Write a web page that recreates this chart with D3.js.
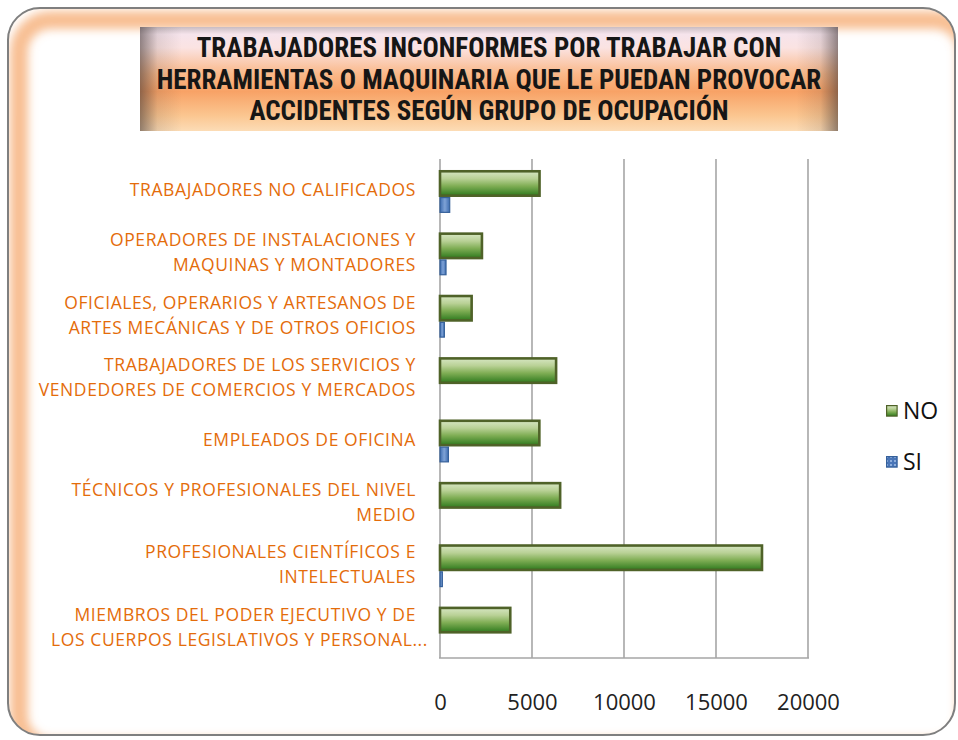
<!DOCTYPE html>
<html>
<head>
<meta charset="utf-8">
<script src="https://cdn.jsdelivr.net/npm/d3@7"></script>
<style>
  html, body { margin: 0; padding: 0; background: #fff; }
  svg { display: block; }
</style>
</head>
<body>
<div id="chart"></div>
<script>
// categorias de arriba hacia abajo, con sus saltos de linea
const categorias = [
  ["TRABAJADORES NO CALIFICADOS"],
  ["OPERADORES DE INSTALACIONES Y", "MAQUINAS Y MONTADORES"],
  ["OFICIALES, OPERARIOS Y ARTESANOS DE", "ARTES MECÁNICAS Y DE OTROS OFICIOS"],
  ["TRABAJADORES DE LOS SERVICIOS Y", "VENDEDORES DE COMERCIOS Y MERCADOS"],
  ["EMPLEADOS DE OFICINA"],
  ["TÉCNICOS Y PROFESIONALES DEL NIVEL", "MEDIO"],
  ["PROFESIONALES CIENTÍFICOS E", "INTELECTUALES"],
  ["MIEMBROS DEL PODER EJECUTIVO Y DE", "LOS CUERPOS LEGISLATIVOS Y PERSONAL..."]
];
const valoresNO = [5480, 2350, 1790, 6380, 5470, 6600, 17570, 3890];
const valoresSI = [560, 360, 270, 0, 490, 0, 160, 0];
const series = ["NO", "SI"];
const ticksX = [0, 5000, 10000, 15000, 20000];
const tituloLineas = [
  "TRABAJADORES INCONFORMES POR TRABAJAR CON",
  "HERRAMIENTAS O MAQUINARIA QUE LE PUEDAN PROVOCAR",
  "ACCIDENTES SEGÚN GRUPO DE OCUPACIÓN"
];

const width = 958, height = 740;
const plot = { left: 440, right: 808, top: 159, bottom: 658 };

const svg = d3.select("#chart").append("svg")
  .attr("width", width).attr("height", height);
const defs = svg.append("defs");

// ---- marco exterior con sombra interior naranja (arriba / izquierda)
defs.append("clipPath").attr("id", "frame-clip")
  .append("rect").attr("x", 8).attr("y", 8).attr("width", 947).attr("height", 727).attr("rx", 32);
const glow = defs.append("filter").attr("id", "glow").attr("x", "-10%").attr("y", "-10%").attr("width", "120%").attr("height", "120%");
glow.append("feGaussianBlur").attr("stdDeviation", 5);

svg.append("rect")
  .attr("x", 8).attr("y", 8).attr("width", 947).attr("height", 727).attr("rx", 32)
  .attr("fill", "#fff");
svg.append("g").attr("clip-path", "url(#frame-clip)")
  .append("rect")
  .attr("x", 8).attr("y", 8).attr("width", 947).attr("height", 727).attr("rx", 32)
  .attr("transform", "translate(11,12)")
  .attr("fill", "none")
  .attr("stroke", "#f4a060")
  .attr("stroke-width", 18)
  .attr("stroke-opacity", 0.68)
  .attr("filter", "url(#glow)");
svg.append("rect")
  .attr("x", 8).attr("y", 8).attr("width", 947).attr("height", 727).attr("rx", 32)
  .attr("fill", "none").attr("stroke", "#7f7f7f").attr("stroke-width", 2);

// ---- caja del titulo
const tg = defs.append("linearGradient").attr("id", "title-v").attr("x1", 0).attr("y1", 0).attr("x2", 0).attr("y2", 1);
[[0, "#c9bcc2"], [0.07, "#f6e4ec"], [0.2, "#fbe3e2"], [0.45, "#fab98a"], [0.62, "#f8a266"], [0.85, "#fbc690"], [1, "#fcdcb6"]]
  .forEach(([o, c]) => tg.append("stop").attr("offset", o).attr("stop-color", c));
const th = defs.append("linearGradient").attr("id", "title-h").attr("x1", 0).attr("y1", 0).attr("x2", 1).attr("y2", 0);
[[0, 0.55], [0.025, 0.12], [0.06, 0], [0.94, 0], [0.975, 0.12], [1, 0.55]]
  .forEach(([o, a]) => th.append("stop").attr("offset", o).attr("stop-color", "#3a3030").attr("stop-opacity", a));

svg.append("rect").attr("x", 140).attr("y", 27).attr("width", 698).attr("height", 104).attr("fill", "url(#title-v)");
svg.append("rect").attr("x", 140).attr("y", 27).attr("width", 698).attr("height", 104).attr("fill", "url(#title-h)");

svg.append("g").selectAll("text")
  .data(tituloLineas)
  .join("text")
  .attr("x", 489)
  .attr("y", (d, i) => 57 + i * 31.5)
  .attr("text-anchor", "middle")
  .attr("font-family", "'Liberation Sans Narrow', 'Roboto Condensed', sans-serif")
  .attr("font-weight", "bold")
  .attr("font-size", 27)
  .attr("fill", "#161616")
  .text((d) => d);

// ---- escalas
const x = d3.scaleLinear().domain([0, 20000]).range([plot.left, plot.right]);
const y = d3.scaleBand().domain(d3.range(categorias.length)).range([plot.top, plot.bottom]);
const bw = y.bandwidth();

// gradientes de barras
const gGreen = defs.append("linearGradient").attr("id", "bar-green").attr("x1", 0).attr("y1", 0).attr("x2", 0).attr("y2", 1);
[[0, "#d6e6c2"], [0.3, "#b9d196"], [0.6, "#80ae55"], [1, "#2f7a1e"]]
  .forEach(([o, c]) => gGreen.append("stop").attr("offset", o).attr("stop-color", c));
const gBlue = defs.append("linearGradient").attr("id", "bar-blue").attr("x1", 0).attr("y1", 0).attr("x2", 1).attr("y2", 0);
[[0, "#3e6db0"], [0.5, "#7ea2d6"], [1, "#3e6db0"]]
  .forEach(([o, c]) => gBlue.append("stop").attr("offset", o).attr("stop-color", c));
const pBlue = defs.append("pattern").attr("id", "leg-blue").attr("width", 4).attr("height", 4).attr("patternUnits", "userSpaceOnUse");
pBlue.append("rect").attr("width", 4).attr("height", 4).attr("fill", "#4a76b8");
pBlue.append("rect").attr("width", 2).attr("height", 2).attr("fill", "#8eaedc");

// ---- cuadricula
svg.append("g").selectAll("line")
  .data(ticksX)
  .join("line")
  .attr("x1", (d) => x(d)).attr("x2", (d) => x(d))
  .attr("y1", plot.top).attr("y2", plot.bottom)
  .attr("stroke", "#a6a6a6").attr("stroke-width", 1.6);
svg.append("line")
  .attr("x1", plot.left - 1).attr("x2", plot.right + 1)
  .attr("y1", plot.bottom).attr("y2", plot.bottom)
  .attr("stroke", "#a6a6a6").attr("stroke-width", 1.6);

// ---- barras
const gNO = svg.append("g");
gNO.selectAll("rect")
  .data(valoresNO)
  .join("rect")
  .attr("x", x(0))
  .attr("y", (d, i) => y(i) + bw * 0.176 + 1.3)
  .attr("width", (d) => x(d) - x(0) - 1.3)
  .attr("height", bw * 0.433 - 2.6)
  .attr("fill", "url(#bar-green)")
  .attr("stroke", "#4f6228")
  .attr("stroke-width", 2.6);

const gSI = svg.append("g");
gSI.selectAll("rect")
  .data(valoresSI.map((v, i) => ({ v, i })).filter((d) => d.v > 0))
  .join("rect")
  .attr("x", x(0))
  .attr("y", (d) => y(d.i) + bw * 0.609 + 0.6)
  .attr("width", (d) => Math.max(1, x(d.v) - x(0) - 0.6))
  .attr("height", bw * 0.256 - 1.2)
  .attr("fill", "url(#bar-blue)")
  .attr("stroke", "#35609a")
  .attr("stroke-width", 1.2);

// ---- etiquetas de categorias
const lineH = 25;
svg.append("g").selectAll("text")
  .data(categorias)
  .join("text")
  .attr("text-anchor", "end")
  .attr("font-family", "'Open Sans', sans-serif")
  .attr("font-size", 17.5)
  .attr("letter-spacing", 0.6)
  .attr("fill", "#e46c0a")
  .each(function (lines, i) {
    const cy = y(i) + bw / 2;
    const t = d3.select(this);
    lines.forEach((ln, k) => {
      t.append("tspan")
        // el texto truncado con "..." sobresale un poco, como en Excel
        .attr("x", ln.endsWith("...") ? 428 : 416)
        .attr("y", cy + (k - (lines.length - 1) / 2) * lineH)
        .attr("dy", "0.36em")
        .text(ln);
    });
  });

// ---- eje x
const axis = d3.axisBottom(x).tickValues(ticksX).tickSize(0).tickPadding(0).tickFormat(d3.format("d"));
svg.append("g")
  .attr("transform", `translate(0, ${plot.bottom + 36})`)
  .call(axis)
  .call((g) => g.select(".domain").remove())
  .call((g) => g.selectAll("text")
    .attr("font-family", "'Open Sans', sans-serif")
    .attr("font-size", 22)
    .attr("fill", "#222"));

// ---- leyenda
const leg = svg.append("g").selectAll("g")
  .data(series)
  .join("g")
  .attr("transform", (d, i) => `translate(886, ${405 + i * 51})`);
leg.append("rect")
  .attr("x", 0.6).attr("y", 0.6).attr("width", 10.5).attr("height", 10.5)
  .attr("fill", (d) => d === "NO" ? "url(#bar-green)" : "url(#leg-blue)")
  .attr("stroke", (d) => d === "NO" ? "#4f6228" : "#35609a")
  .attr("stroke-width", 1.2);
leg.append("text")
  .attr("x", 17).attr("y", 6).attr("dy", "0.36em")
  .attr("font-family", "'Open Sans', sans-serif")
  .attr("font-size", 23)
  .attr("fill", "#111")
  .text((d) => d);
</script>
</body>
</html>
